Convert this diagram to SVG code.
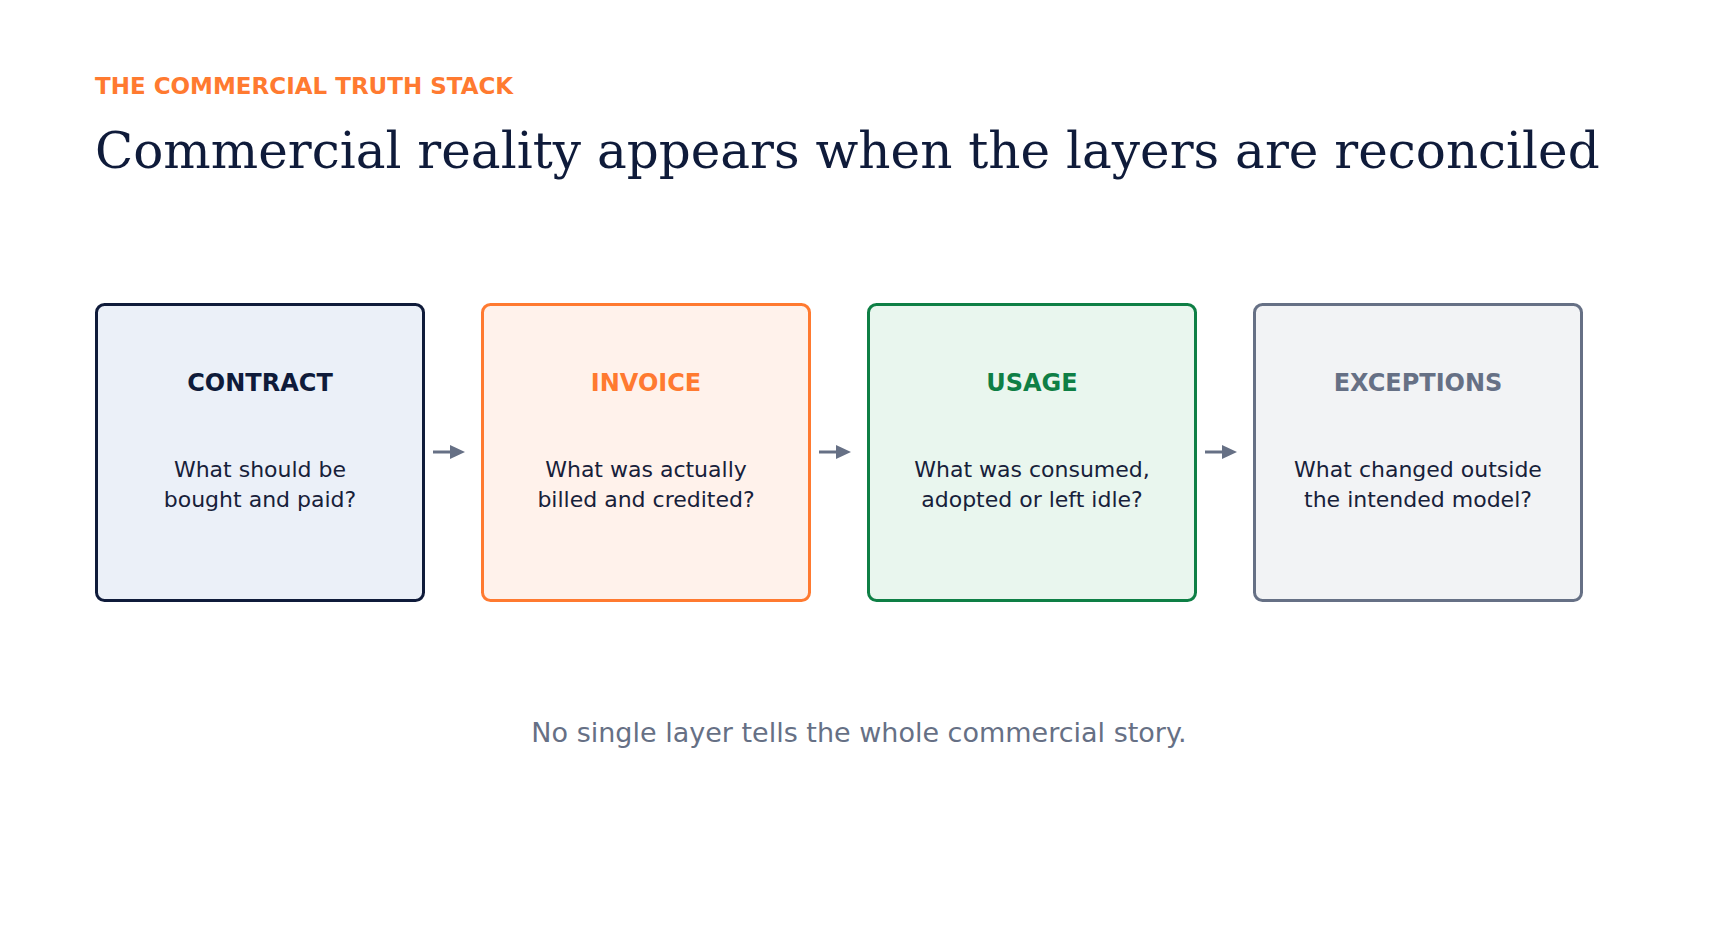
<svg xmlns="http://www.w3.org/2000/svg" width="1710" height="936" viewBox="0 0 1710 936">
<defs>
<style>
.s{font-family:"DejaVu Sans",sans-serif}
.h{font-size:24px;font-weight:bold;text-anchor:middle}
.b{font-size:22px;fill:#17213a;text-anchor:middle}
.box{stroke-width:3}
.con{stroke:#667085;stroke-width:3;fill:none}
</style>
<marker id="ah" markerWidth="10" markerHeight="10" refX="8" refY="5" orient="auto" markerUnits="userSpaceOnUse" viewBox="0 0 10 10"><path d="M0,0 L10,5 L0,10 Z" fill="#667085" transform="scale(1.6) translate(-3.5,-1.9)"/></marker>
</defs>
<rect width="1710" height="936" fill="#fff"/>
<text class="s" x="95" y="94" font-size="23" font-weight="bold" fill="#ff7a30">THE COMMERCIAL TRUTH STACK</text>
<text x="95" y="168" font-family="DejaVu Serif,serif" font-size="50" fill="#0f1b3a">Commercial reality appears when the layers are reconciled</text>
<g id="contract"><rect class="box" x="96.5" y="304.5" width="327" height="296" rx="8" fill="#ebf0f8" stroke="#0f1b3a"/>
<text class="s h" x="260" y="391" fill="#0f1b3a">CONTRACT</text>
<text class="s b" x="260" y="477">What should be</text><text class="s b" x="260" y="507">bought and paid?</text></g>
<g id="invoice"><rect class="box" x="482.5" y="304.5" width="327" height="296" rx="8" fill="#fff2eb" stroke="#ff7a30"/>
<text class="s h" x="646" y="391" fill="#ff7a30">INVOICE</text>
<text class="s b" x="646" y="477">What was actually</text><text class="s b" x="646" y="507">billed and credited?</text></g>
<g id="usage"><rect class="box" x="868.5" y="304.5" width="327" height="296" rx="8" fill="#e9f6ee" stroke="#0e7f45"/>
<text class="s h" x="1032" y="391" fill="#0e7f45">USAGE</text>
<text class="s b" x="1032" y="477">What was consumed,</text><text class="s b" x="1032" y="507">adopted or left idle?</text></g>
<g id="exceptions"><rect class="box" x="1254.5" y="304.5" width="327" height="296" rx="8" fill="#f2f3f5" stroke="#667085"/>
<text class="s h" x="1418" y="391" fill="#667085">EXCEPTIONS</text>
<text class="s b" x="1418" y="477">What changed outside</text><text class="s b" x="1418" y="507">the intended model?</text></g>
<g id="connectors">
<line class="con" x1="433" y1="452" x2="457" y2="452"/><path d="M450,445 L465,452 L450,459 Z" fill="#667085"/>
<line class="con" x1="819" y1="452" x2="843" y2="452"/><path d="M836,445 L851,452 L836,459 Z" fill="#667085"/>
<line class="con" x1="1205" y1="452" x2="1229" y2="452"/><path d="M1222,445 L1237,452 L1222,459 Z" fill="#667085"/>
</g>
<text class="s" x="859" y="742" font-size="27" fill="#667085" text-anchor="middle">No single layer tells the whole commercial story.</text>
</svg>
